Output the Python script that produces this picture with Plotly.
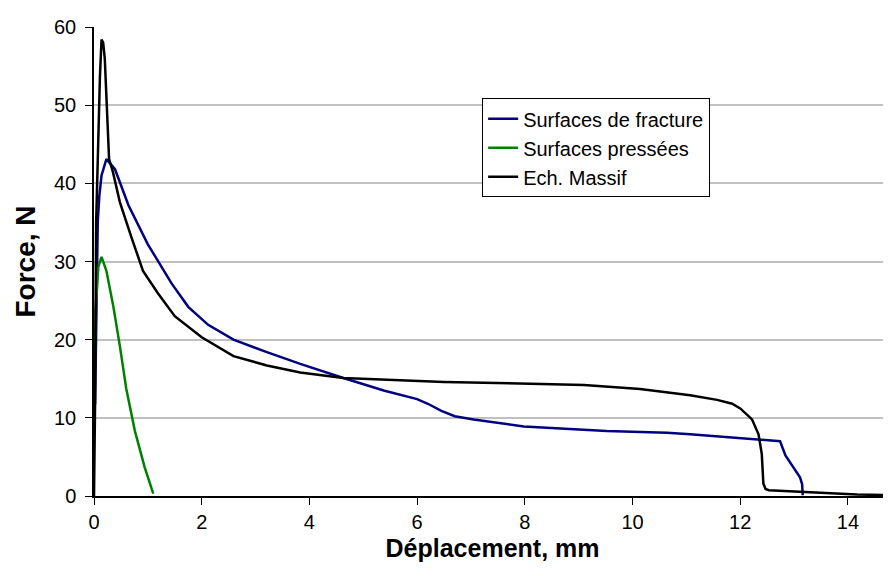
import plotly.graph_objs as go

# Surfaces de fracture
fracture_x = [0.02, 0.05, 0.07, 0.10, 0.14, 0.23, 0.39, 0.64, 1.00, 1.44, 1.75, 2.12, 2.59, 3.21,
              3.83, 4.63, 5.38, 6.00, 6.20, 6.45, 6.70, 7.05, 7.98, 9.52, 10.64, 11.07, 11.88,
              12.74, 12.84, 12.99, 13.11, 13.15, 13.16]
fracture_y = [11.7, 30.5, 35.1, 38.5, 41.0, 43.1, 41.8, 37.2, 32.2, 27.2, 24.2, 21.9, 20.0, 18.4,
              16.9, 15.1, 13.5, 12.4, 11.8, 10.9, 10.2, 9.8, 8.9, 8.3, 8.1, 7.9, 7.5,
              7.0, 5.2, 3.7, 2.4, 1.5, 0.1]

# Surfaces pressées
presse_x = [0.00, 0.02, 0.03, 0.08, 0.14, 0.23, 0.36, 0.48, 0.60, 0.76, 0.94, 1.10]
presse_y = [10.0, 18.0, 23.8, 29.3, 30.6, 28.8, 24.2, 19.2, 13.7, 8.3, 3.7, 0.3]

# Ech. Massif
massif_x = [0.00, 0.02, 0.04, 0.06, 0.08, 0.11, 0.14, 0.17, 0.20, 0.23, 0.28, 0.35, 0.48, 0.70,
            0.91, 1.19, 1.50, 2.00, 2.59, 3.21, 3.83, 4.63, 5.69, 6.50, 7.90, 9.10, 10.14,
            10.64, 11.07, 11.57, 11.85, 12.00, 12.22, 12.34, 12.40, 12.43, 12.47, 12.53,
            13.11, 13.55, 14.17, 14.80]
massif_y = [0.0, 12.0, 35.0, 40.0, 47.3, 53.6, 58.4, 58.0, 56.0, 50.2, 43.1, 41.5, 37.6, 33.0,
            28.8, 25.9, 23.0, 20.3, 17.9, 16.7, 15.8, 15.1, 14.8, 14.6, 14.4, 14.2, 13.7,
            13.3, 12.9, 12.3, 11.8, 11.2, 9.8, 7.9, 5.4, 1.6, 0.9, 0.75,
            0.55, 0.42, 0.2, 0.1]

x_ticks = [0, 2, 4, 6, 8, 10, 12, 14]
y_ticks = [0, 10, 20, 30, 40, 50, 60]

FONT = 'Liberation Sans, Arial, sans-serif'

fig = go.Figure()
fig.add_trace(go.Scatter(x=fracture_x, y=fracture_y, mode='lines', name='Surfaces de fracture',
                         line=dict(color='#000080', width=2.5)))
fig.add_trace(go.Scatter(x=presse_x, y=presse_y, mode='lines', name='Surfaces pressées',
                         line=dict(color='#008000', width=2.5)))
fig.add_trace(go.Scatter(x=massif_x, y=massif_y, mode='lines', name='Ech. Massif',
                         line=dict(color='black', width=2.5)))

# page body has an 8px margin, so the margins are shifted by 8px
fig.update_layout(
    width=891, height=576,
    margin=dict(l=86, r=8, t=10, b=88),
    paper_bgcolor='white', plot_bgcolor='white',
    font=dict(family=FONT, color='black', size=20),
    showlegend=True,
    legend=dict(x=0.487, y=0.848, xanchor='left', yanchor='top',
                bgcolor='white', bordercolor='black', borderwidth=1,
                font=dict(size=20), tracegroupgap=0, itemwidth=30),
)
fig.update_xaxes(
    range=[0, 14.8], tickvals=x_ticks, showgrid=False, zeroline=False,
    showline=True, linecolor='black', linewidth=1.5,
    ticks='outside', ticklen=7, tickcolor='black',
    title=dict(text='<b>Déplacement, mm</b>', font=dict(size=25), standoff=8),
)
fig.update_yaxes(
    range=[0, 60], tickvals=y_ticks, showgrid=True, gridcolor='#c0c0c0', gridwidth=1.5,
    zeroline=False, showline=True, linecolor='black', linewidth=1.5,
    ticks='outside', ticklen=7, tickcolor='black', ticklabelstandoff=5,
    ticklabeloverflow='allow',
    title=dict(text='<b>Force, N</b>', font=dict(size=28), standoff=10),
)

fig.write_html('out.html')
